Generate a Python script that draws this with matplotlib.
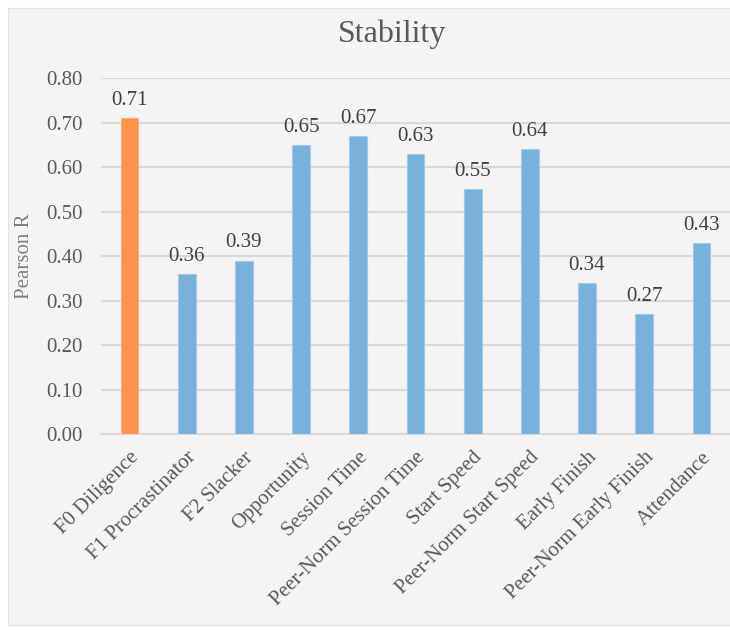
import matplotlib.pyplot as plt
from matplotlib.patches import Rectangle

categories = ["F0 Diligence", "F1 Procrastinator", "F2 Slacker", "Opportunity",
              "Session Time", "Peer-Norm Session Time", "Start Speed",
              "Peer-Norm Start Speed", "Early Finish", "Peer-Norm Early Finish",
              "Attendance"]
pearson_r = [0.71, 0.36, 0.39, 0.65, 0.67, 0.63, 0.55, 0.64, 0.34, 0.27, 0.43]
y_ticks = [0.0, 0.1, 0.2, 0.3, 0.4, 0.5, 0.6, 0.7, 0.8]

plt.rcParams['font.family'] = ['Liberation Serif', 'DejaVu Serif']
text_col = "#595959"
fs = 15

fig = plt.figure(figsize=(7.3, 6.31), dpi=100)
fig.patch.set_facecolor("white")
# grey chart area behind everything
panel = Rectangle((0.011, 0.0095), 1.1, 0.978, transform=fig.transFigure,
                  facecolor="#f5f3f4", edgecolor="#e4e2e3", lw=0.8, zorder=-10)
fig.add_artist(panel)

ax = fig.add_axes([0.1384, 0.312, 0.8616, 0.564])
ax.set_facecolor("none")

x = list(range(len(categories)))
colors = ["#fe914b"] + ["#7ab1d9"] * (len(categories) - 1)
edges = ["#ffb07e"] + ["#a6cbe8"] * (len(categories) - 1)
bars = ax.bar(x, pearson_r, width=0.31, color=colors, edgecolor=edges, linewidth=0.8, zorder=3)

for xi, v in zip(x, pearson_r):
    ax.annotate(f"{v:.2f}", (xi, v), xytext=(0, 6), textcoords="offset points",
                ha="center", va="bottom", fontsize=fs, color="#404040")

ax.set_xlim(-0.5, len(categories) - 0.5)
ax.set_ylim(0, 0.8)
ax.set_yticks(y_ticks)
ax.set_yticklabels([f"{t:.2f}" for t in y_ticks], fontsize=fs, color=text_col)
ax.set_xticks(x)
ax.set_xticklabels(categories, rotation=45, ha="right", rotation_mode="anchor",
                   fontsize=fs, color=text_col)
ax.tick_params(axis="both", length=0)
ax.tick_params(axis="y", pad=13)
ax.tick_params(axis="x", pad=10)

ax.grid(axis="y", color="#d9d9d9", linewidth=1.5, zorder=0)
ax.set_axisbelow(True)
for s in ["top", "right", "left"]:
    ax.spines[s].set_visible(False)
ax.spines["bottom"].set_color("#d9d9d9")
ax.spines["bottom"].set_linewidth(1.5)

ax.set_ylabel("Pearson R", fontsize=fs, color="#7f7f7f", labelpad=9)
fig.text(0.537, 0.945, "Stability", ha="center", va="center", fontsize=23, color=text_col)

fig.savefig("out.png", dpi=100)
